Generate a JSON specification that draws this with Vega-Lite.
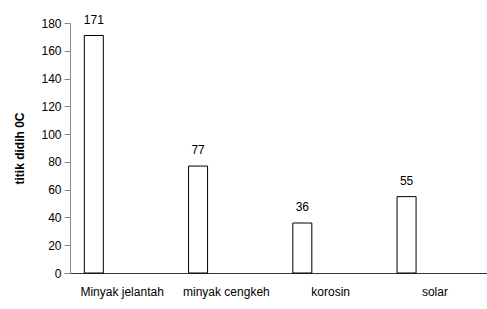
{
  "$schema": "https://vega.github.io/schema/vega-lite/v6.json",
  "autosize": {"type": "none"},
  "padding": {"left": 70, "top": 23, "right": 0, "bottom": 36},
  "width": 417,
  "height": 250,
  "background": "white",
  "config": {
    "view": {"stroke": null},
    "font": "Liberation Sans Narrow, Liberation Sans",
    "axis": {"labelFont": "Liberation Sans Narrow, Liberation Sans", "titleFont": "Liberation Sans Narrow, Liberation Sans"}
  },
  "data": {
    "values": [
      {"bahan": "Minyak jelantah", "titik": 171},
      {"bahan": "minyak cengkeh", "titik": 77},
      {"bahan": "korosin", "titik": 36},
      {"bahan": "solar", "titik": 55}
    ]
  },
  "encoding": {
    "x": {
      "field": "bahan", "type": "nominal", "sort": null,
      "scale": {"paddingInner": 0, "paddingOuter": 0},
      "axis": {
        "title": null, "labelAngle": 0, "ticks": false, "labelPadding": 13,
        "labelFontSize": 12, "labelColor": "black", "domainColor": "#333333", "grid": false
      }
    },
    "y": {
      "field": "titik", "type": "quantitative",
      "scale": {"domain": [0, 180], "nice": false},
      "axis": {
        "title": "titik didih 0C", "titleFontSize": 12, "titleFontWeight": "bold", "titleColor": "black",
        "titlePadding": 14,
        "values": [0, 20, 40, 60, 80, 100, 120, 140, 160, 180],
        "labelFontSize": 12, "labelColor": "black", "labelPadding": 3,
        "tickSize": 6, "tickColor": "#888888", "domainColor": "#888888", "grid": false
      }
    }
  },
  "layer": [
    {"mark": {"type": "bar", "width": 19, "xOffset": -28.3, "fill": "white", "stroke": "black", "strokeWidth": 1}},
    {"mark": {"type": "text", "xOffset": -28.3, "dy": -12, "baseline": "alphabetic", "fontSize": 12, "color": "black"},
     "encoding": {"text": {"field": "titik", "type": "quantitative"}}}
  ]
}
